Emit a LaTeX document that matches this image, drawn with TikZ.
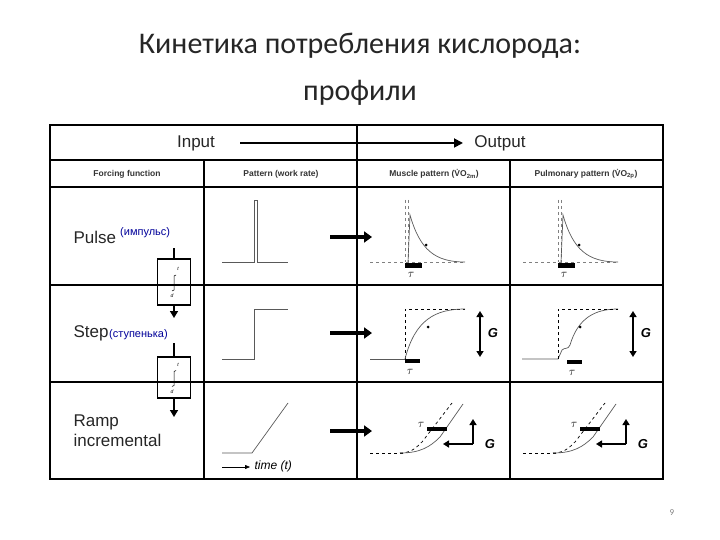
\documentclass[tikz,border=0pt]{standalone}
\usepackage{fontspec}
\setmainfont{Liberation Sans}
\newfontfamily\titlefont{Carlito}
\usetikzlibrary{arrows.meta}
\begin{document}
\begin{tikzpicture}[x=1pt,y=-1pt,
  grid/.style={line width=1.6pt},
  curve/.style={gray!70!black,line width=0.7pt},
  dsh/.style={dashed,line width=0.7pt},
  bigarr/.style={line width=3.2pt,-{Triangle[length=8pt,width=11pt]}},
  garr/.style={line width=1.5pt,{Triangle[length=6pt,width=7pt]}-{Triangle[length=6pt,width=7pt]}},
  lbl/.style={font=\fontsize{8.5}{10}\selectfont\bfseries,inner sep=1pt,black!80},
  big/.style={font=\fontsize{17}{20}\selectfont,black!85},
  tl/.style={font=\fontsize{13}{14}\selectfont},
  gl/.style={font=\fontsize{13}{14}\selectfont\bfseries\itshape}]
\useasboundingbox (0,0) rectangle (720,540);
% title
\node[font=\titlefont\fontsize{30}{47}\selectfont,align=center,black!85] (title) at (360,69) {Кинетика потребления кислорода:\\профили};
\node[font=\titlefont\fontsize{9}{10}\selectfont,gray] (pg) at (672,513) {9};
% table
\draw[grid] (50,125) rectangle (663,479);
\draw[grid] (50,160) -- (663,160);
\draw[grid] (50,187) -- (663,187);
\draw[grid] (50,285) -- (663,285);
\draw[grid] (50,382) -- (663,382);
\draw[grid] (357,125) -- (357,479);
\draw[grid] (204,160) -- (204,479);
\draw[grid] (510,160) -- (510,479);
\node[big] (inp) at (196,143) {Input};
\node[big] (outp) at (500,143) {Output};
\draw[line width=1.8pt,-{Triangle[length=9pt,width=9pt]}] (240,143) -- (463,143);
\node[lbl] (h1) at (127,174) {Forcing function};
\node[lbl] (h2) at (281,174) {Pattern (work rate)};
\node[lbl] (h3) at (434,174) {Muscle pattern (\.VO\textsubscript{2m})};
\node[lbl] (h4) at (586,174) {Pulmonary pattern (\.VO\textsubscript{2p})};
% row labels
\node[big,anchor=west] (pulse) at (70,237) {Pulse};
\node[anchor=west,font=\fontsize{11}{12}\selectfont,blue!60!black,inner sep=0] (pr) at (120,233) {(импульс)};
\node[big,anchor=west] (step) at (70,333) {Step};
\node[anchor=west,font=\fontsize{11}{12}\selectfont,blue!60!black,inner sep=0] (sr) at (109,335) {(ступенька)};
\node[big,anchor=west,align=left] (ramp) at (70,431) {Ramp\\incremental};
% transform boxes
\foreach \n/\yt/\yb/\ya/\ys in {b1/259/305/318/248, b2/357/398/417/343}{
  \node[draw,line width=1.5pt,minimum width=33pt,minimum height={\yb-\yt},inner sep=0] (\n) at (174,{(\yt+\yb)/2}) {};
  \coordinate (\n s) at (174,\ys);
  \coordinate (\n e) at (174,\ya);
  \draw[line width=1.5pt] (\n s) -- (\n.north);
  \draw[line width=1.5pt,-{Triangle[length=7pt,width=8pt]}] (\n.south) -- (\n e);
  \draw[line width=0.5pt] ([shift={(-2,9)}]\n.center) -- ([shift={(0,8)}]\n.center) -- ([shift={(0,-6)}]\n.center) -- ([shift={(2,-7)}]\n.center);
  \node[font=\tiny\itshape,inner sep=0] at ([shift={(4,-13)}]\n.center) {t};
  \node[font=\tiny\itshape,inner sep=0] at ([shift={(-2,14)}]\n.center) {d};
}
% input patterns
\draw[curve] (222,262) -- (254,262) -- (254,200) -- (257,200) -- (257,262) -- (288,262);
\draw[curve] (222,359) -- (254,359) -- (254,309) -- (288,309);
\draw[curve] (222,453) -- (252,453) -- (288,403);
\draw[-{Triangle[length=5pt,width=4pt]}] (222,467) -- (250,467);
\node[anchor=west,font=\fontsize{12}{13}\selectfont\itshape] (tt) at (251,466) {time (t)};
% big arrows
\foreach \y in {237,333,431}{ \draw[bigarr] (330,\y) -- (372,\y); }
% pulse outputs
\foreach \dx in {0,153}{
\begin{scope}[xshift=\dx]
  \draw[dsh,gray] (370,262) -- (465,262);
  \draw[dsh,gray] (405,200) -- (405,262);
  \draw[dsh,gray] (408,200) -- (408,262);
  \draw[curve] (408,262) -- (410,215) .. controls (420,250) and (435,262) .. (465,262);
  \fill (426,245) circle (1.5);
  \fill (405,263) rectangle (422,268);
  \node[tl] at (411,275) {$\tau$};
\end{scope}}
% step outputs
\draw[curve] (370,359) -- (405,359);
\draw[dsh] (405,359) -- (405,309) -- (465,309);
\draw[curve] (405,359) .. controls (415,320) and (435,309) .. (465,309);
\fill (428,327) circle (1.5);
\fill (405,359) rectangle (420,363);
\node[tl] at (410,372) {$\tau$};
\draw[garr] (480,311) -- (480,357);
\node[gl] (g1) at (493,333) {G};
\draw[curve] (522,359) -- (558,359) -- (562,350) .. controls (565,347) and (568,350) .. (570,345) .. controls (578,318) and (595,309) .. (618,309);
\draw[dsh] (558,359) -- (558,309) -- (618,309);
\fill (580,327) circle (1.5);
\fill (567,360) rectangle (582,364);
\node[tl] at (572,373) {$\tau$};
\draw[garr] (633,311) -- (633,357);
\node[gl] (g2) at (646,333) {G};
% ramp outputs
\foreach \dx/\n in {0/a,153/b}{
\begin{scope}[xshift=\dx]
  \draw[dsh] (370,453) -- (405,453);
  \draw[dsh] (400,453) .. controls (410,453) and (415,449) .. (422,442) -- (452,403);
  \draw[curve] (400,453) .. controls (420,453) and (430,447) .. (440,437) -- (463,404);
  \fill (427,427) rectangle (447,431);
  \node[tl] at (421,425) {$\tau$};
  \draw[line width=1.5pt,-{Triangle[length=6pt,width=7pt]}] (473,444) -- (473,419);
  \draw[line width=1.5pt,-{Triangle[length=6pt,width=7pt]}] (473,444) -- (443,444);
  \node[gl] (G\n) at (490,444) {G};
\end{scope}}
\end{tikzpicture}
\end{document}
